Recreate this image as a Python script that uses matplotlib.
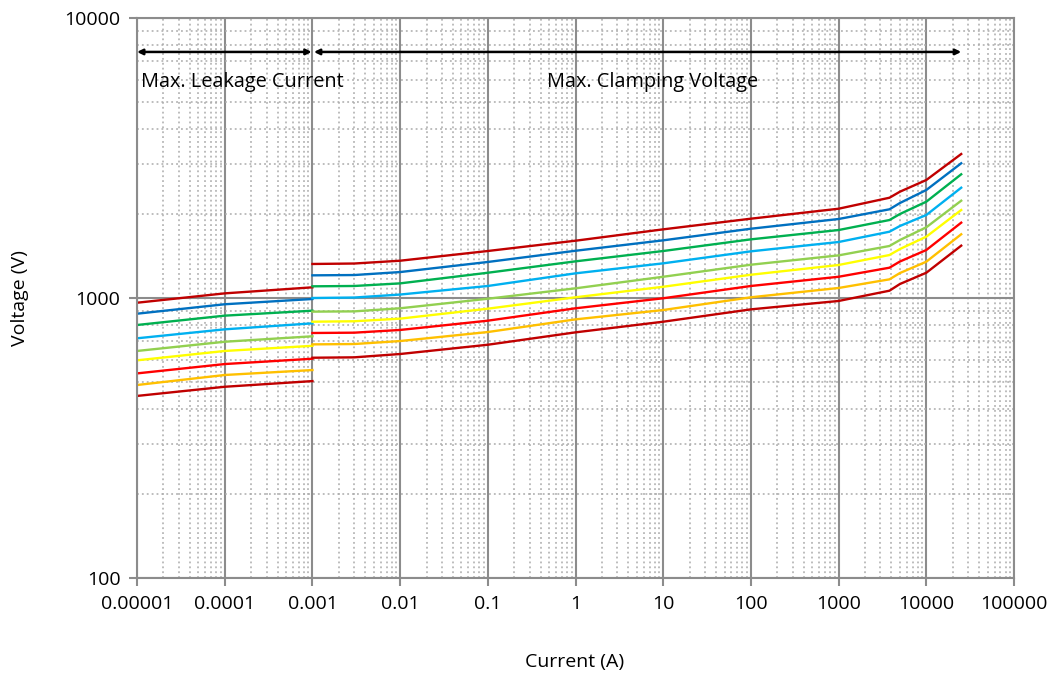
import numpy as np
import matplotlib
matplotlib.use("Agg")
import matplotlib.pyplot as plt
from matplotlib.ticker import FixedLocator, NullFormatter, LogLocator

plt.rcParams['font.family'] = ['Open Sans', 'DejaVu Sans']

# ---- data ----
leak_x = [1e-5, 1e-4, 1e-3]
leak_v = [
    [962, 1039, 1092],
    [879, 950, 992],
    [801, 865, 901],
    [718, 773, 812],
    [647, 698, 730],
    [599, 647, 675],
    [538, 581, 607],
    [489, 531, 553],
    [447, 482, 505],
]

clamp_x = [1e-3, 3e-3, 1e-2, 1e-1, 1, 10, 100, 1000, 3800, 5000, 1e4, 2.5e4]
clamp_v = [
    [1323, 1328, 1359, 1472, 1602, 1759, 1920, 2084, 2281, 2397, 2639, 3268],
    [1205, 1208, 1238, 1345, 1475, 1607, 1768, 1915, 2074, 2184, 2431, 3028],
    [1101, 1104, 1128, 1231, 1352, 1472, 1620, 1749, 1899, 1995, 2208, 2766],
    [1000, 1004, 1029, 1104, 1225, 1330, 1468, 1585, 1725, 1808, 1979, 2477],
    [894, 896, 919, 994, 1083, 1191, 1315, 1420, 1534, 1611, 1789, 2226],
    [823, 826, 844, 916, 1006, 1097, 1211, 1312, 1424, 1496, 1656, 2062],
    [750, 752, 769, 830, 919, 998, 1104, 1191, 1283, 1350, 1484, 1858],
    [683, 685, 702, 756, 839, 906, 1006, 1086, 1166, 1228, 1348, 1689],
    [612, 614, 631, 681, 754, 823, 911, 976, 1062, 1122, 1231, 1538],
]

colors = ['#C00000', '#0070C0', '#00B050', '#00B0F0', '#92D050',
          '#FFFF00', '#FF0000', '#FFC000', '#C00000']

x_ticks = [1e-5, 1e-4, 1e-3, 1e-2, 1e-1, 1, 10, 100, 1000, 1e4, 1e5]
x_labels = ['0.00001', '0.0001', '0.001', '0.01', '0.1', '1', '10',
            '100', '1000', '10000', '100000']
y_ticks = [100, 1000, 10000]
y_labels = ['100', '1000', '10000']

arrow_y = 7565
leak_range = (1e-5, 1e-3)
clamp_range = (1e-3, 2.5e4)

# ---- figure ----
fig = plt.figure(figsize=(10.51, 6.77), dpi=100)
ax = fig.add_axes([0.1304, 0.1462, 0.8344, 0.8272])
ax.set_xscale('log')
ax.set_yscale('log')
ax.set_xlim(1e-5, 1e5)
ax.set_ylim(100, 10000)

grid_major = '#8c8c8c'
grid_minor = '#ababab'
ax.xaxis.set_major_locator(FixedLocator(x_ticks))
ax.yaxis.set_major_locator(FixedLocator(y_ticks))
ax.xaxis.set_minor_locator(LogLocator(base=10, subs=np.arange(2, 10), numticks=20))
ax.yaxis.set_minor_locator(LogLocator(base=10, subs=np.arange(2, 10), numticks=20))
ax.xaxis.set_minor_formatter(NullFormatter())
ax.yaxis.set_minor_formatter(NullFormatter())
ax.set_xticklabels(x_labels)
ax.set_yticklabels(y_labels)

ax.grid(True, which='major', color=grid_major, lw=1.5, ls='-')
ax.grid(True, which='minor', color=grid_minor, lw=1.1, ls=(0, (1.2, 2)))
ax.set_axisbelow(True)

ax.tick_params(which='major', direction='out', length=6, width=1.5,
               color=grid_major, labelsize=14, pad=6)
ax.tick_params(which='minor', length=0)
for s in ax.spines.values():
    s.set_color(grid_major)
    s.set_linewidth(1.5)

for vals, c in zip(leak_v, colors):
    ax.plot(leak_x, vals, color=c, lw=1.7, solid_joinstyle='round')
for vals, c in zip(clamp_v, colors):
    ax.plot(clamp_x, vals, color=c, lw=1.7, solid_joinstyle='round')

arrow_kw = dict(arrowstyle='<|-|>', color='black', lw=1.8,
                mutation_scale=8, shrinkA=0, shrinkB=0)
ax.annotate('', xy=(leak_range[0], arrow_y), xytext=(leak_range[1] * 0.98, arrow_y),
            arrowprops=arrow_kw)
ax.annotate('', xy=(clamp_range[0] * 1.04, arrow_y), xytext=(clamp_range[1], arrow_y),
            arrowprops=arrow_kw)

ax.text(1.12e-5, 5900, 'Max. Leakage Current', fontsize=14.3, va='center', ha='left')
ax.text(7.6, 5900, 'Max. Clamping Voltage', fontsize=14.3, va='center', ha='center')

fig.text(0.0195, 0.56, 'Voltage (V)', rotation=90, fontsize=14, va='center', ha='center')
fig.text(0.547, 0.022, 'Current (A)', fontsize=14, va='center', ha='center')

fig.savefig('out.png', dpi=100)
